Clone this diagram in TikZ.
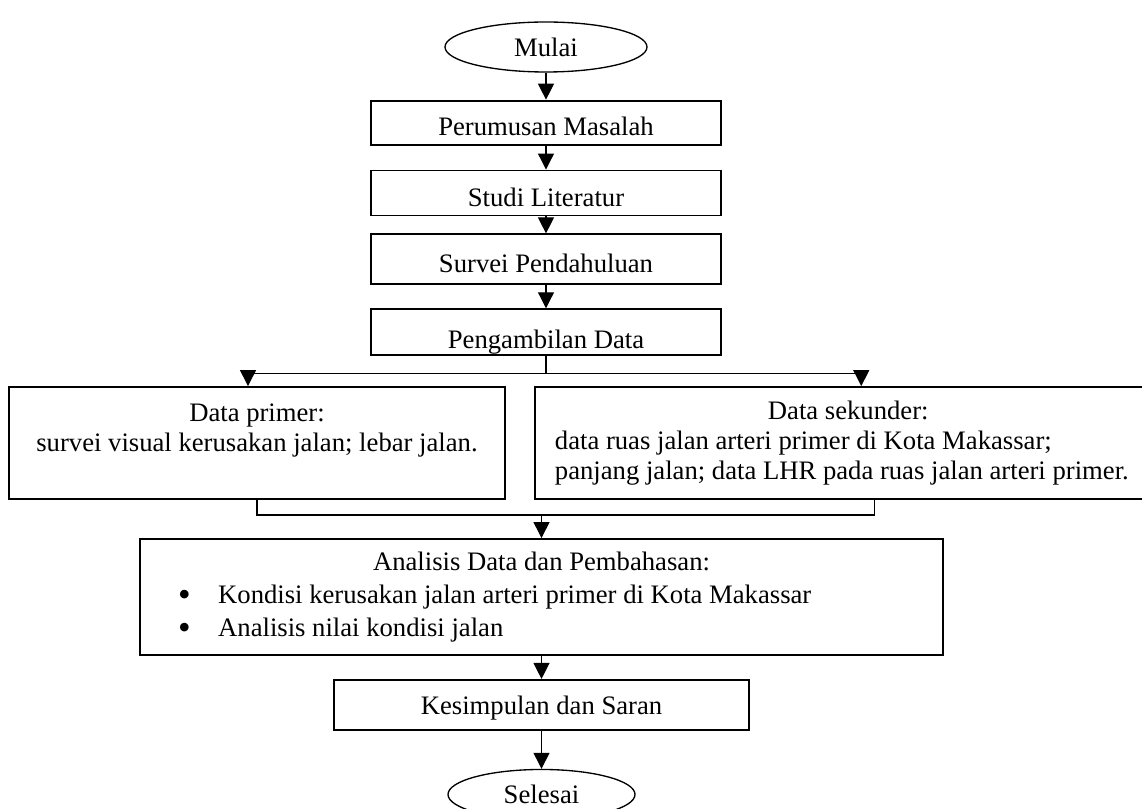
\documentclass[tikz,border=0pt]{standalone}
\usepackage{fontspec}
\setmainfont{Liberation Serif}
\usetikzlibrary{shapes.geometric,positioning,arrows.meta}

\newcommand{\butir}{\hspace*{28.5pt}\makebox[30pt][l]{\raisebox{-2pt}{\fontsize{27}{27}\selectfont\textbullet}}}

\begin{document}
\begin{tikzpicture}[x=0.75pt,y=-0.75pt,>={Triangle[width=12pt,length=12pt]},line width=0.9pt,
		font=\fontsize{20}{22.5}\selectfont,
		kotak/.style={draw,line width=1.4pt,inner xsep=0pt,inner ysep=0pt,minimum width=263pt},
		terminal/.style={draw,ellipse,line width=1pt,inner sep=0pt,minimum width=#1,minimum height=37.5pt}]
		\useasboundingbox (0,0) rectangle (1142,809);
		\clip (0,0) rectangle (1142,809);

		\node[terminal=151.5pt] (mulai) at (546,47) {Mulai};
		\node[kotak,text height=26.25pt,text depth=6.75pt] (masalah) [below=20.25pt of mulai] {Perumusan Masalah};
		\node[kotak,text height=27pt,text depth=6.75pt] (literatur) [below=18pt of masalah] {Studi Literatur};
		\node[kotak,text height=28.5pt,text depth=9pt] (survei) [below=12.75pt of literatur] {Survei Pendahuluan};
		\node[kotak,text height=29.25pt,text depth=5.25pt] (data) [below=17.25pt of survei] {Pengambilan Data};

		\node[kotak,align=center,text width=372pt,minimum height=84pt] (primer) at (257,443)
			{\spaceskip=.25em\relax Data primer:\\ survei visual kerusakan jalan; lebar jalan.\\ \null};
		\node[kotak,anchor=west,align=left,text width=440pt,inner xsep=15pt,minimum height=84pt] (sekunder) at (534,443)
			{\spaceskip=.25em\relax\hfill Data sekunder:\hfill\null\\
			data ruas jalan arteri primer di Kota Makassar;\\
			panjang jalan; data LHR pada ruas jalan arteri primer.};

		\node[kotak,align=left,text width=602pt,minimum height=87pt,font=\fontsize{20}{24.75}\selectfont] (analisis) at (541.5,597)
			{\spaceskip=.25em\relax\hfill Analisis Data dan Pembahasan:\hfill\null\\
			\butir Kondisi kerusakan jalan arteri primer di Kota Makassar\\
			\butir Analisis nilai kondisi jalan};
		\node[kotak,minimum width=311.25pt,text height=26.25pt,text depth=11.25pt] (simpulan) [below=17.25pt of analisis] {Kesimpulan dan Saran};
		\node[terminal=140.25pt] (selesai) [below=28.5pt of simpulan] {Selesai};

		\draw[->] (mulai) -- (masalah);
		\draw[->] (masalah) -- (literatur);
		\draw[->] (literatur) -- (survei);
		\draw[->] (survei) -- (data);

		% cabang ke data primer dan sekunder
		\draw (data.south) -- ++(0,17) coordinate (cabang);
		\draw[->] (cabang) -| ([xshift=-6.75pt]primer.north);
		\draw[->] (cabang) -| ([xshift=9.75pt]sekunder.north);

		\coordinate (gabung) at ([yshift=17.25pt]analisis.north);
		\draw (primer.south) |- (gabung) -| ([xshift=19.5pt]sekunder.south);
		\draw[->] (gabung) -- (analisis.north);

		\draw[->] (analisis) -- (simpulan);
		\draw[->] (simpulan) -- (selesai);
\end{tikzpicture}
\end{document}
